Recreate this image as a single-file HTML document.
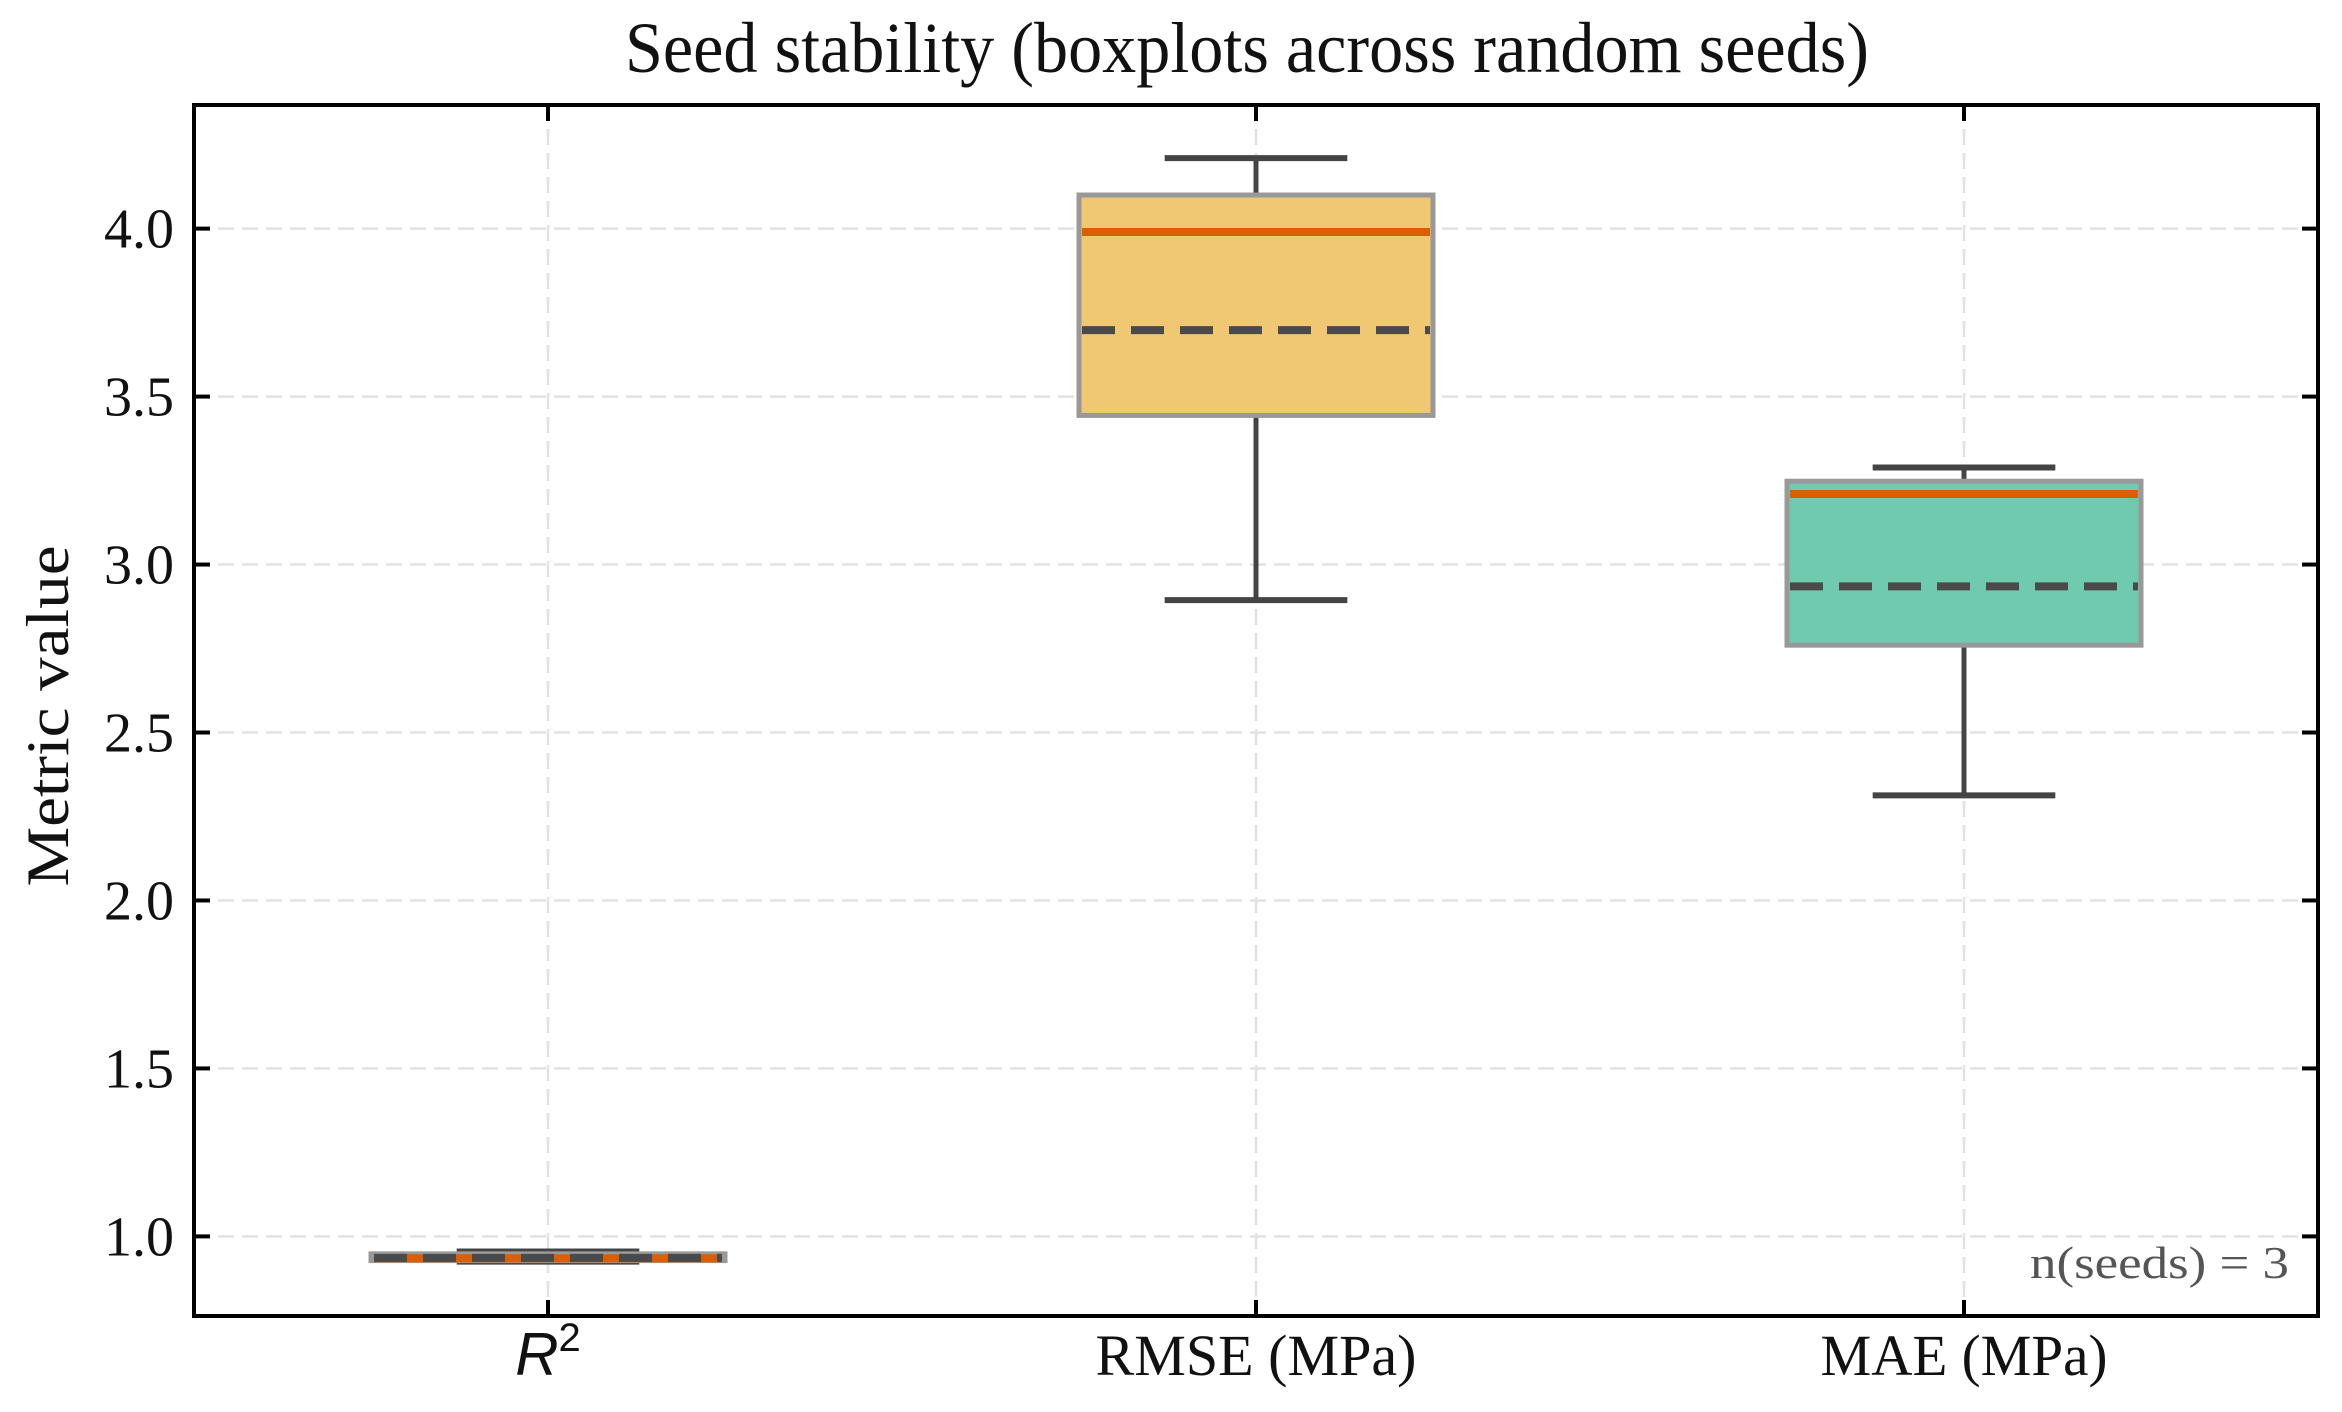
<!DOCTYPE html>
<html><head><meta charset="utf-8"><style>
html,body{margin:0;padding:0;background:#fff;}
svg{display:block;}
text{font-family:"Liberation Serif",serif;fill:#111;}
</style></head><body>
<svg id="chart" width="2342" height="1412" viewBox="0 0 2342 1412" xmlns="http://www.w3.org/2000/svg">
<rect width="2342" height="1412" fill="#fff"/>
<text x="1247" y="72" font-size="72" text-anchor="middle" textLength="1244" lengthAdjust="spacingAndGlyphs">Seed stability (boxplots across random seeds)</text>
<text transform="translate(68,716) rotate(-90)" font-size="60" text-anchor="middle" textLength="341" lengthAdjust="spacingAndGlyphs">Metric value</text>
<g id="grid"></g>
<g id="marks"></g>
<g id="axes"></g>
<text x="2289" y="1278" font-size="46" text-anchor="end" textLength="259" lengthAdjust="spacingAndGlyphs" style="fill:#555">n(seeds) = 3</text>
</svg>
<script>
const categories = ["R2", "RMSE (MPa)", "MAE (MPa)"];
const whiskerLow = [0.925, 2.894, 2.313];
const q1Values = [0.928, 3.444, 2.760];
const medianValues = [0.935, 3.990, 3.210];
const meanValues = [0.936, 3.698, 2.935];
const q3Values = [0.948, 4.100, 3.248];
const whiskerHigh = [0.955, 4.210, 3.289];
const boxColors = ["#8c8c8c", "#f0c873", "#6fcaaf"];
const yTicks = [1.0, 1.5, 2.0, 2.5, 3.0, 3.5, 4.0];
const yTickLabels = ["1.0", "1.5", "2.0", "2.5", "3.0", "3.5", "4.0"];

const NS = "http://www.w3.org/2000/svg";
const L = 194, R = 2318, T = 105, B = 1316;
const yMin = 0.763, yMax = 4.368;
function yScale(v){ return B - (v - yMin) / (yMax - yMin) * (B - T); }
const band = (R - L) / categories.length;
function xScale(i){ return L + band * (i + 0.5); }
function mk(tag, attrs, parent){
  const e = document.createElementNS(NS, tag);
  for (const k in attrs) e.setAttribute(k, attrs[k]);
  parent.appendChild(e);
  return e;
}
const grid = document.getElementById('grid');
const marks = document.getElementById('marks');
const axes = document.getElementById('axes');

yTicks.forEach((v, i) => {
  const y = yScale(v);
  const g = mk('line', {x1:L, x2:R, y1:y, y2:y, stroke:'#e2e2e2', 'stroke-width':2.5, 'stroke-dasharray':'16 8'}, grid);
  
  
  const t1 = mk('line', {x1:L, x2:L+16, y1:y, y2:y, stroke:'#000', 'stroke-width':4}, axes);
  
  
  const t2 = mk('line', {x1:R-16, x2:R, y1:y, y2:y, stroke:'#000', 'stroke-width':4}, axes);
  
  
  const lab = mk('text', {x:174, y:y+19, 'font-size':56, 'text-anchor':'end'}, axes);
  lab.textContent = yTickLabels[i];
  
  
});
categories.forEach((c, i) => {
  const x = xScale(i);
  const g = mk('line', {x1:x, x2:x, y1:T, y2:B, stroke:'#e2e2e2', 'stroke-width':2.5, 'stroke-dasharray':'16 8'}, grid);
  
  
  const t1 = mk('line', {x1:x, x2:x, y1:B-16, y2:B, stroke:'#000', 'stroke-width':4}, axes);
  
  
  const t2 = mk('line', {x1:x, x2:x, y1:T, y2:T+16, stroke:'#000', 'stroke-width':4}, axes);
  
  
  let lab;
  if (c === "R2") {
    lab = mk('text', {x:x, y:1375, 'font-size':60, 'text-anchor':'middle', style:'font-family:"Liberation Sans",sans-serif;font-style:italic'}, axes);
    lab.textContent = 'R';
    const sup = mk('tspan', {'font-size':40, dy:-24, style:'font-style:normal'}, lab);
    sup.textContent = '2';
  } else {
    const w = c.startsWith('RMSE') ? 321 : 287;
    lab = mk('text', {x:x, y:1375, 'font-size':58, 'text-anchor':'middle', textLength:w, lengthAdjust:'spacingAndGlyphs'}, axes);
    lab.textContent = c;
  }
  
  

  const bw = band * 0.5, cw = band * 0.129;
  const wl = mk('line', {x1:x, x2:x, y1:yScale(whiskerLow[i]), y2:yScale(q1Values[i]), stroke:'#444', 'stroke-width':5}, marks);
  
  
  const wh = mk('line', {x1:x, x2:x, y1:yScale(whiskerHigh[i]), y2:yScale(q3Values[i]), stroke:'#444', 'stroke-width':5}, marks);
  
  
  const cl = mk('line', {x1:x-cw, x2:x+cw, y1:yScale(whiskerLow[i]), y2:yScale(whiskerLow[i]), stroke:'#444', 'stroke-width':6}, marks);
  
  
  const ch = mk('line', {x1:x-cw, x2:x+cw, y1:yScale(whiskerHigh[i]), y2:yScale(whiskerHigh[i]), stroke:'#444', 'stroke-width':6}, marks);
  
  
  const bx = mk('rect', {x:x-bw/2, y:yScale(q3Values[i]), width:bw, height:yScale(q1Values[i])-yScale(q3Values[i]), fill:boxColors[i], stroke:'#999', 'stroke-width':5}, marks);
  
  
  const md = mk('line', {x1:x-bw/2+3, x2:x+bw/2-3, y1:yScale(medianValues[i]), y2:yScale(medianValues[i]), stroke:'#d95f02', 'stroke-width':8}, marks);
  
  
  const mn = mk('line', {x1:x-bw/2+3, x2:x+bw/2-3, y1:yScale(meanValues[i]), y2:yScale(meanValues[i]), stroke:'#4a4a4a', 'stroke-width':8, 'stroke-dasharray':'33 16'}, marks);
  
  
});
const frame = mk('rect', {x:L, y:T, width:R-L, height:B-T, fill:'none', stroke:'#000', 'stroke-width':4}, axes);


</script>
</body></html>
